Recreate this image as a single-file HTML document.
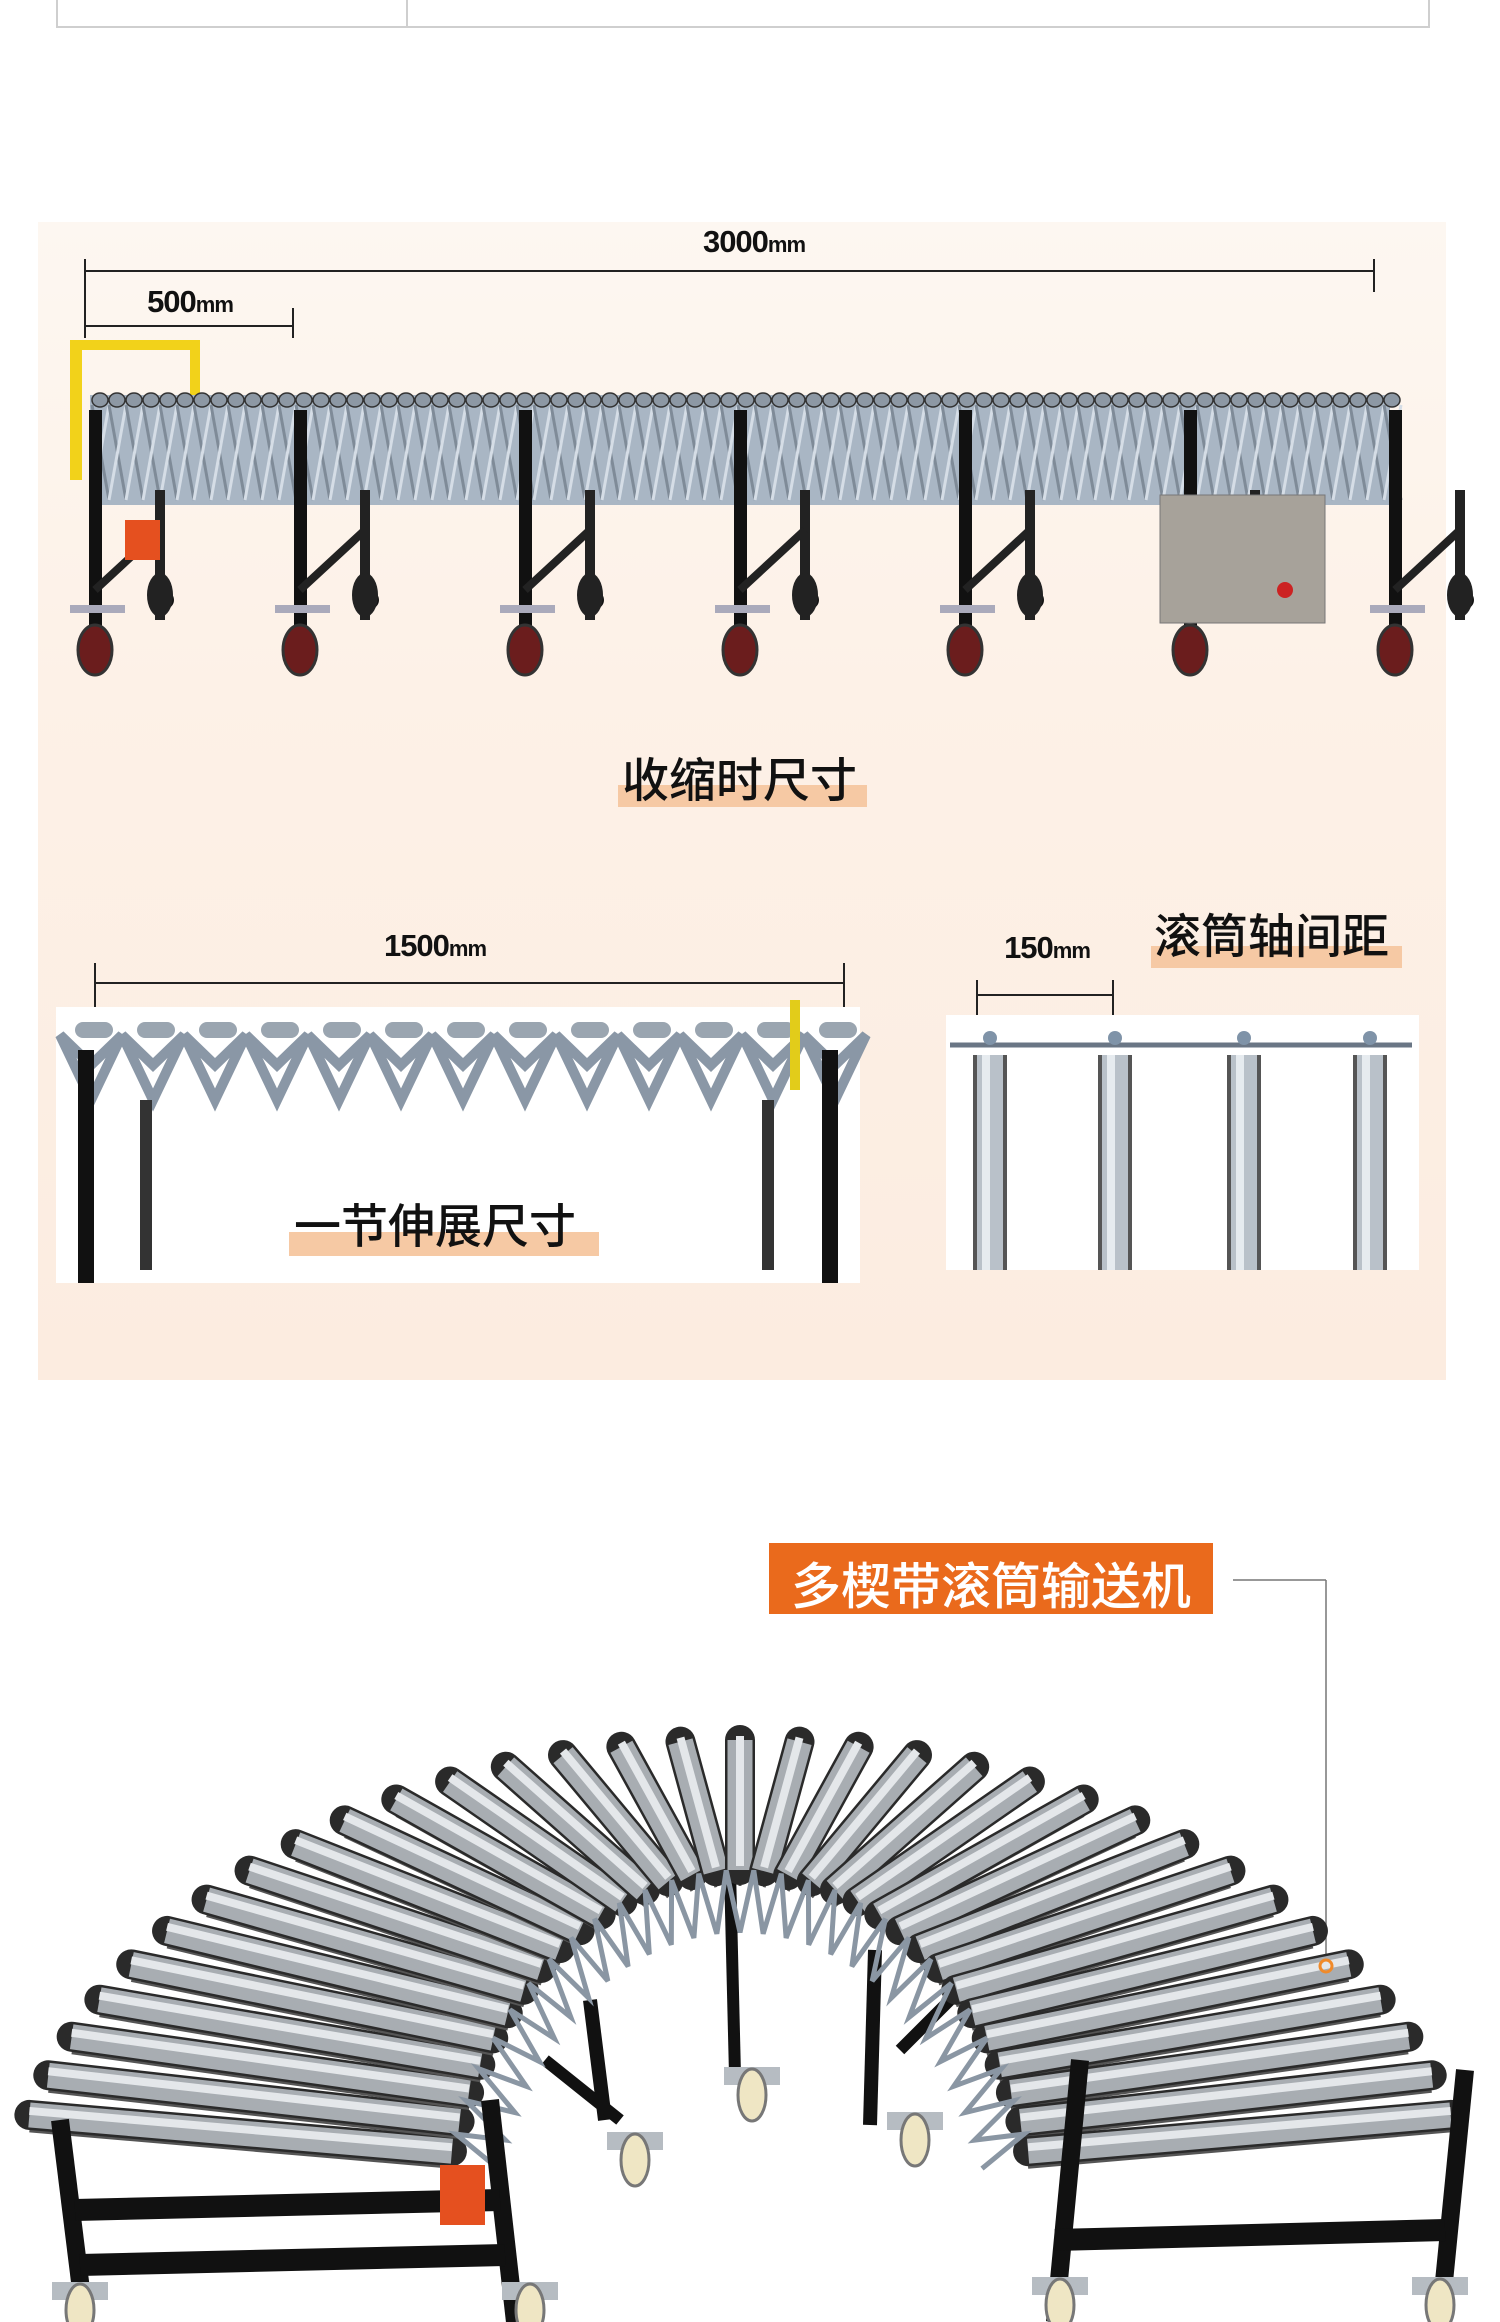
<!DOCTYPE html>
<html><head><meta charset="utf-8">
<style>
html,body{margin:0;padding:0;background:#fff;}
body{width:1500px;height:2322px;position:relative;overflow:hidden;font-family:"Liberation Sans","Noto Sans CJK SC",sans-serif;}
.abs{position:absolute;}
.dim{position:absolute;font-weight:bold;font-size:31px;color:#111;letter-spacing:-1px;transform:translateX(-50%);white-space:nowrap;}
.dim small{font-size:22px;}
.cap{position:absolute;font-size:47px;color:#111;white-space:nowrap;font-family:"Liberation Sans","Noto Sans CJK SC",sans-serif;font-weight:500;}
.bar{position:absolute;background:#f6c9a4;}
</style></head><body>
<div class="abs" style="left:56px;top:-2px;width:1370px;height:28px;border:2px solid #cfcfcf;border-top:none;"></div>
<div class="abs" style="left:406px;top:0;width:2px;height:28px;background:#cfcfcf;"></div>

<div class="abs" style="left:38px;top:222px;width:1408px;height:1158px;background:linear-gradient(#fdf7f1,#fdf1e7 40%,#fcece0);"></div>

<svg class="abs" style="left:0;top:0" width="1500" height="2322" id="svg">
 <g stroke="#222" stroke-width="2" fill="none">
  <line x1="85" y1="271" x2="1374" y2="271"/>
  <line x1="85" y1="259" x2="85" y2="338"/>
  <line x1="1374" y1="259" x2="1374" y2="292"/>
  <line x1="85" y1="326" x2="293" y2="326"/>
  <line x1="293" y1="308" x2="293" y2="338"/>
  <line x1="95" y1="983" x2="844" y2="983"/>
  <line x1="95" y1="963" x2="95" y2="1020"/>
  <line x1="844" y1="963" x2="844" y2="1020"/>
  <line x1="977" y1="995" x2="1113" y2="995"/>
  <line x1="977" y1="980" x2="977" y2="1022"/>
  <line x1="1113" y1="980" x2="1113" y2="1022"/>
 </g>
 <g id="conv1"></g>
 <rect x="56" y="1007" width="804" height="276" fill="#fff"/>
 <g id="conv2"></g>
 <rect x="946" y="1015" width="473" height="255" fill="#fff"/>
 <g id="conv3"></g>
 <line x1="1233" y1="1580" x2="1326" y2="1580" stroke="#777" stroke-width="1.5"/>
 <line x1="1326" y1="1580" x2="1326" y2="1960" stroke="#777" stroke-width="1.5"/>
 <g id="arc"></g>
 <circle cx="1326" cy="1966" r="6" fill="none" stroke="#f08a2a" stroke-width="3"/>
</svg>

<div class="dim" style="left:754px;top:224px;">3000<small>mm</small></div>
<div class="dim" style="left:190px;top:284px;">500<small>mm</small></div>
<div class="bar" style="left:618px;top:785px;width:249px;height:22px;"></div>
<div class="cap" style="left:622px;top:742px;">收缩时尺寸</div>
<div class="dim" style="left:435px;top:928px;">1500<small>mm</small></div>
<div class="bar" style="left:289px;top:1232px;width:310px;height:24px;"></div>
<div class="cap" style="left:294px;top:1188px;">一节伸展尺寸</div>
<div class="dim" style="left:1047px;top:930px;">150<small>mm</small></div>
<div class="bar" style="left:1151px;top:946px;width:251px;height:22px;"></div>
<div class="cap" style="left:1154px;top:898px;">滚筒轴间距</div>

<div class="abs" style="left:769px;top:1543px;width:444px;height:71px;background:#ea6a1c;"></div>
<div class="abs" style="left:769px;top:1547px;width:444px;text-align:center;font-size:50px;color:#fff;font-weight:500;font-family:'Liberation Sans','Noto Sans CJK SC',sans-serif;">多楔带滚筒输送机</div>

<script>
var NS="http://www.w3.org/2000/svg";
function el(p,t,a){var e=document.createElementNS(NS,t);for(var k in a)e.setAttribute(k,a[k]);p.appendChild(e);return e;}
var c1=document.getElementById('conv1');
el(c1,'rect',{x:70,y:340,width:12,height:140,fill:'#f2d21a'});
el(c1,'rect',{x:70,y:340,width:128,height:10,fill:'#f2d21a'});
el(c1,'rect',{x:190,y:340,width:10,height:60,fill:'#f2d21a'});
el(c1,'rect',{x:90,y:395,width:1300,height:110,fill:'#a9b6c4'});
for(var x=92;x<1390;x+=17){
 el(c1,'ellipse',{cx:x+8,cy:400,rx:8,ry:7,fill:'#8d98a4',stroke:'#333','stroke-width':1.5});
 el(c1,'line',{x1:x,y1:405,x2:x+17,y2:500,stroke:'#7f8b98','stroke-width':3});
 el(c1,'line',{x1:x+17,y1:405,x2:x,y2:500,stroke:'#d5dde6','stroke-width':3});
}
var legs=[95,300,525,740,965,1190,1395];
legs.forEach(function(lx,i){
 el(c1,'rect',{x:lx-6,y:410,width:13,height:230,fill:'#111'});
 el(c1,'rect',{x:lx+60,y:490,width:10,height:130,fill:'#222'});
 el(c1,'line',{x1:lx,y1:590,x2:lx+65,y2:530,stroke:'#222','stroke-width':8});
 el(c1,'circle',{cx:lx+70,cy:600,r:9,fill:'#111'});
 el(c1,'rect',{x:lx-25,y:605,width:55,height:8,fill:'#aab'});
 el(c1,'ellipse',{cx:lx,cy:650,rx:17,ry:25,fill:'#6b1d1d',stroke:'#333','stroke-width':3});
 el(c1,'ellipse',{cx:lx+65,cy:595,rx:13,ry:22,fill:'#222'});
});
el(c1,'rect',{x:125,y:520,width:35,height:40,fill:'#e5501f'});
el(c1,'rect',{x:1160,y:495,width:165,height:128,fill:'#a7a29a',stroke:'#777'});
el(c1,'circle',{cx:1285,cy:590,r:8,fill:'#c22'});
var c2=document.getElementById('conv2');
for(var x=60;x<850;x+=62){
 el(c2,'polygon',{points:(x)+',1035 '+(x+31)+',1065 '+(x+62)+',1035 '+(x+31)+',1100',fill:'none',stroke:'#8a97a6','stroke-width':10});
 el(c2,'rect',{x:x+15,y:1022,width:38,height:16,rx:8,fill:'#9aa5b0'});
}
el(c2,'rect',{x:78,y:1050,width:16,height:233,fill:'#111'});
el(c2,'rect',{x:140,y:1100,width:12,height:170,fill:'#333'});
el(c2,'rect',{x:822,y:1050,width:16,height:233,fill:'#111'});
el(c2,'rect',{x:762,y:1100,width:12,height:170,fill:'#333'});
el(c2,'rect',{x:790,y:1000,width:10,height:90,fill:'#e2cc1a'});
var c3=document.getElementById('conv3');
el(c3,'line',{x1:950,y1:1045,x2:1412,y2:1045,stroke:'#6a7685','stroke-width':5});
[990,1115,1244,1370].forEach(function(x){
 el(c3,'rect',{x:x-17,y:1055,width:34,height:215,fill:'#b9c1c9'});
 el(c3,'rect',{x:x-8,y:1055,width:8,height:215,fill:'#e6ebef'});
 el(c3,'rect',{x:x-17,y:1055,width:4,height:215,fill:'#555'});
 el(c3,'rect',{x:x+13,y:1055,width:4,height:215,fill:'#555'});
 el(c3,'circle',{cx:x,cy:1038,r:7,fill:'#7f93a8'});
});
var a=document.getElementById('arc');
var cx=740,cy=2260,orx=740,ory=520,irx=300,iry=390;
function leg(x1,y1,x2,y2,w){el(a,'line',{x1:x1,y1:y1,x2:x2,y2:y2,stroke:'#111','stroke-width':w});}
leg(875,1950,870,2125,14); leg(900,2050,960,1990,12);
leg(590,2000,605,2120,14); leg(545,2060,620,2120,12);
leg(730,1870,735,2075,12);
var N=32, a0=1.09, a1=1.91;
for(var i=0;i<=N;i++){
 var t=Math.PI*(a0+(a1-a0)*i/N);
 var ct=Math.cos(t),st=Math.sin(t);
 var x1=cx+orx*ct,y1=cy+ory*st,x2=cx+irx*ct,y2=cy+iry*st;
 el(a,'line',{x1:x1,y1:y1+16,x2:x2,y2:y2+16,stroke:'#555','stroke-width':3});
 el(a,'line',{x1:x1,y1:y1,x2:x2,y2:y2,stroke:'#2a2a2a','stroke-width':30,'stroke-linecap':'round'});
 el(a,'line',{x1:x1,y1:y1,x2:x2,y2:y2,stroke:'#a8adb2','stroke-width':25});
 el(a,'line',{x1:x1,y1:y1-4,x2:x2,y2:y2-4,stroke:'#e4e7ea','stroke-width':8});
}
var pts=[];
for(var i=0;i<=56;i++){var t=Math.PI*(a0+(a1-a0)*i/56);var r=(i%2)?1:0.84;pts.push((cx+irx*r*Math.cos(t))+','+(cy+iry*r*Math.sin(t)));}
el(a,'polyline',{points:pts.join(' '),fill:'none',stroke:'#8a96a3','stroke-width':5});
leg(60,2120,85,2322,18); leg(490,2100,515,2322,18);
leg(75,2210,500,2200,22); leg(80,2265,505,2255,22);
leg(1080,2060,1055,2322,18); leg(1465,2070,1440,2322,18);
leg(1055,2240,1445,2230,22);
[[635,2160],[752,2095],[915,2140],[1060,2305],[1440,2305],[80,2310],[530,2310]].forEach(function(p){
 el(a,'rect',{x:p[0]-28,y:p[1]-28,width:56,height:18,fill:'#b6bcc2'});
 el(a,'ellipse',{cx:p[0],cy:p[1],rx:14,ry:26,fill:'#efe6c4',stroke:'#777','stroke-width':3});
});
el(a,'rect',{x:440,y:2165,width:45,height:60,fill:'#e5501f'});
</script>
</body></html>
